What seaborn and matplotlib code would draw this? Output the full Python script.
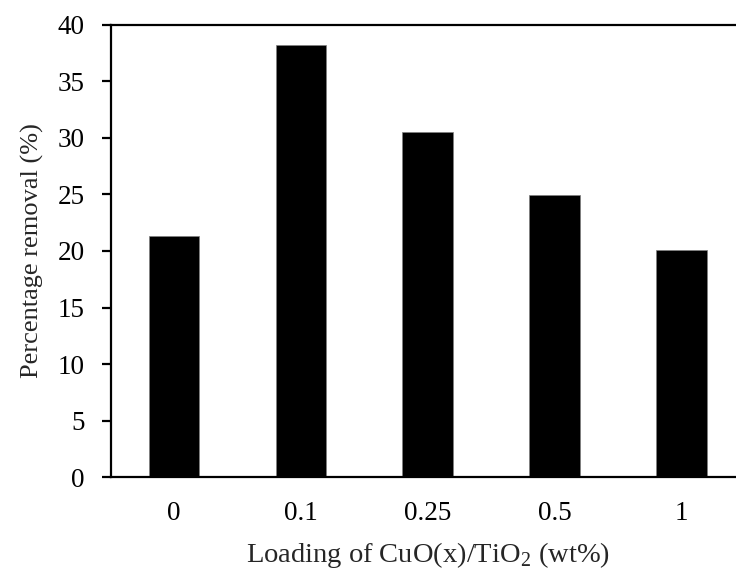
import matplotlib
matplotlib.use("Agg")
import matplotlib.pyplot as plt
import seaborn as sns
import pandas as pd

# data
loadings = ['0', '0.1', '0.25', '0.5', '1']
removal = [21.35, 38.2, 30.5, 24.95, 20.05]
y_ticks = [0, 5, 10, 15, 20, 25, 30, 35, 40]

df = pd.DataFrame({'loading': loadings, 'removal': removal})

sns.set_style("white")
plt.rcParams['font.family'] = ['Liberation Serif', 'DejaVu Serif']
plt.rcParams['mathtext.fontset'] = 'custom'
plt.rcParams['mathtext.rm'] = 'Liberation Serif'

fig = plt.figure(figsize=(7.36, 5.68), dpi=100)
ax = fig.add_axes([0.1504, 0.1602, 0.8618, 0.7958])

sns.barplot(data=df, x='loading', y='removal', order=loadings, color='black',
            saturation=1, width=0.4, edgecolor='#808080', linewidth=0.5, ax=ax)

ax.set_ylim(0, 40)
ax.set_yticks(y_ticks)
ax.set_xlim(-0.5, 4.5)

for side in ['left', 'bottom', 'top']:
    ax.spines[side].set_linewidth(1.6)
    ax.spines[side].set_color('black')
ax.spines['right'].set_visible(False)

ax.tick_params(axis='y', direction='out', length=6.5, width=1.6, pad=12,
               labelsize=19.5, left=True, colors='black')
ax.tick_params(axis='x', length=0, pad=17, labelsize=19.5, colors='black')

ax.set_xlabel('Loading of CuO(x)/TiO$_2$ (wt%)', fontsize=20.5, labelpad=10)
ax.set_ylabel('Percentage removal (%)', fontsize=19, labelpad=10)

fig.savefig('out.png', dpi=100)
